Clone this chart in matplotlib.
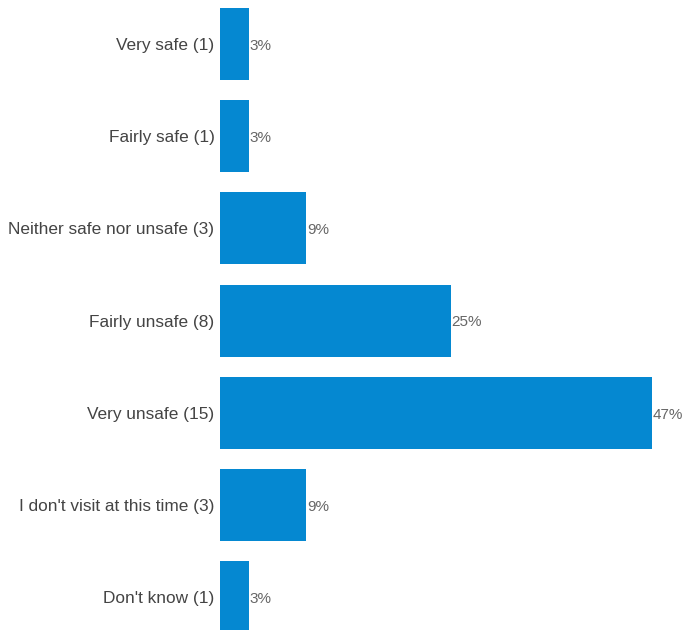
import matplotlib.pyplot as plt

# Odpowiedzi i liczba osób
categories = ['Very safe (1)', 'Fairly safe (1)', 'Neither safe nor unsafe (3)',
              'Fairly unsafe (8)', 'Very unsafe (15)', "I don't visit at this time (3)",
              "Don't know (1)"]
counts = [1, 1, 3, 8, 15, 3, 1]
pct_labels = ['3%', '3%', '9%', '25%', '47%', '9%', '3%']

total = sum(counts)
shares = [c / total * 100 for c in counts]

plt.rcParams['font.family'] = ['Liberation Sans', 'DejaVu Sans']

fig = plt.figure(figsize=(6.83, 6.30), dpi=100)
ax = fig.add_axes([220 / 683, 0, 463 / 683, 1])

ypos = list(range(len(categories)))
ax.barh(ypos, shares, height=0.78, color='#0588D1')

for y, s, lab in zip(ypos, shares, pct_labels):
    ax.text(s + 0.05, y + 0.02, lab, va='center', ha='left', fontsize=11, color='#666666', clip_on=False)

ax.set_yticks(ypos)
ax.set_yticklabels(categories, fontsize=12.45, color='#444444')
ax.tick_params(axis='y', length=0, pad=4)
ax.set_xticks([])
ax.set_xlim(0, 50.2)
ax.set_ylim(6.356, -0.477)
for sp in ax.spines.values():
    sp.set_visible(False)

fig.savefig('out.png', dpi=100)
